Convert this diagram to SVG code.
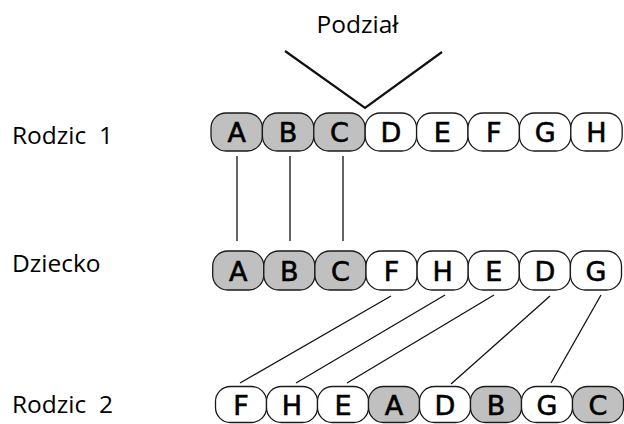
<svg xmlns="http://www.w3.org/2000/svg" width="624" height="424" viewBox="0 0 624 424">
<style>
.lbl{font-family:"Open Sans","Noto Sans",sans-serif;font-size:24.5px;fill:#000}
.cell rect{stroke:#1a1a1a;stroke-width:1.3}
.w{fill:#fff}
.g{fill:#c0c0c0}
.cell text{font-family:"DejaVu Sans","Liberation Sans",sans-serif;font-size:27px;text-anchor:middle;fill:#000;stroke:#000;stroke-width:0.6}
.ln{stroke:#111;stroke-width:1.3;fill:none}
.cut{stroke:#111;stroke-width:2.2;fill:none}
</style>
<rect width="624" height="424" fill="#fff"/>
<g id="labels">
<text class="lbl" x="357.5" y="32.5" text-anchor="middle">Podział</text>
<text class="lbl" x="12" y="144" xml:space="preserve">Rodzic  1</text>
<text class="lbl" x="12" y="272">Dziecko</text>
<text class="lbl" x="12" y="413" xml:space="preserve">Rodzic  2</text>
</g>
<g id="connectors">
<polyline class="cut" points="285,51 365,108 442,52"/>
<line class="ln" x1="237" y1="156" x2="237" y2="241"/>
<line class="ln" x1="290" y1="156" x2="290" y2="241"/>
<line class="ln" x1="343" y1="156" x2="343" y2="241"/>
<line class="ln" x1="391" y1="296" x2="240" y2="383"/>
<line class="ln" x1="445" y1="295" x2="296" y2="383"/>
<line class="ln" x1="494" y1="295" x2="347" y2="383"/>
<line class="ln" x1="550" y1="296" x2="451" y2="384"/>
<line class="ln" x1="601" y1="295" x2="551" y2="383"/>
</g>
<g id="parent1">
<g id="p1-A" class="cell"><rect class="g" x="211" y="113" width="51.4" height="38" rx="15" ry="15"/><text x="236.7" y="141.7">A</text></g>
<g id="p1-B" class="cell"><rect class="g" x="262.4" y="113" width="51.4" height="38" rx="15" ry="15"/><text x="288.1" y="141.7">B</text></g>
<g id="p1-C" class="cell"><rect class="g" x="313.8" y="113" width="51.4" height="38" rx="15" ry="15"/><text x="339.5" y="141.7">C</text></g>
<g id="p1-D" class="cell"><rect class="w" x="365.2" y="113" width="51.4" height="38" rx="15" ry="15"/><text x="390.9" y="141.7">D</text></g>
<g id="p1-E" class="cell"><rect class="w" x="416.6" y="113" width="51.4" height="38" rx="15" ry="15"/><text x="442.3" y="141.7">E</text></g>
<g id="p1-F" class="cell"><rect class="w" x="468" y="113" width="51.4" height="38" rx="15" ry="15"/><text x="493.7" y="141.7">F</text></g>
<g id="p1-G" class="cell"><rect class="w" x="519.4" y="113" width="51.4" height="38" rx="15" ry="15"/><text x="545.1" y="141.7">G</text></g>
<g id="p1-H" class="cell"><rect class="w" x="570.8" y="113" width="51.4" height="38" rx="15" ry="15"/><text x="596.5" y="141.7">H</text></g>
</g>
<g id="child">
<g id="c-A" class="cell"><rect class="g" x="212.7" y="251" width="51.1" height="39" rx="15" ry="15"/><text x="238.25" y="280.5">A</text></g>
<g id="c-B" class="cell"><rect class="g" x="263.8" y="251" width="51.1" height="39" rx="15" ry="15"/><text x="289.35" y="280.5">B</text></g>
<g id="c-C" class="cell"><rect class="g" x="314.9" y="251" width="51.1" height="39" rx="15" ry="15"/><text x="340.45" y="280.5">C</text></g>
<g id="c-F" class="cell"><rect class="w" x="366" y="251" width="51.1" height="39" rx="15" ry="15"/><text x="391.55" y="280.5">F</text></g>
<g id="c-H" class="cell"><rect class="w" x="417.1" y="251" width="51.1" height="39" rx="15" ry="15"/><text x="442.65" y="280.5">H</text></g>
<g id="c-E" class="cell"><rect class="w" x="468.2" y="251" width="51.1" height="39" rx="15" ry="15"/><text x="493.75" y="280.5">E</text></g>
<g id="c-D" class="cell"><rect class="w" x="519.3" y="251" width="51.1" height="39" rx="15" ry="15"/><text x="544.85" y="280.5">D</text></g>
<g id="c-G" class="cell"><rect class="w" x="570.4" y="251" width="51.1" height="39" rx="15" ry="15"/><text x="595.95" y="280.5">G</text></g>
</g>
<g id="parent2">
<g id="p2-F" class="cell"><rect class="w" x="215.5" y="386.5" width="51" height="36" rx="15" ry="15"/><text x="241" y="414.5">F</text></g>
<g id="p2-H" class="cell"><rect class="w" x="266.5" y="386.5" width="51" height="36" rx="15" ry="15"/><text x="292" y="414.5">H</text></g>
<g id="p2-E" class="cell"><rect class="w" x="317.5" y="386.5" width="51" height="36" rx="15" ry="15"/><text x="343" y="414.5">E</text></g>
<g id="p2-A" class="cell"><rect class="g" x="368.5" y="386.5" width="51" height="36" rx="15" ry="15"/><text x="394" y="414.5">A</text></g>
<g id="p2-D" class="cell"><rect class="w" x="419.5" y="386.5" width="51" height="36" rx="15" ry="15"/><text x="445" y="414.5">D</text></g>
<g id="p2-B" class="cell"><rect class="g" x="470.5" y="386.5" width="51" height="36" rx="15" ry="15"/><text x="496" y="414.5">B</text></g>
<g id="p2-G" class="cell"><rect class="w" x="521.5" y="386.5" width="51" height="36" rx="15" ry="15"/><text x="547" y="414.5">G</text></g>
<g id="p2-C" class="cell"><rect class="g" x="572.5" y="386.5" width="51" height="36" rx="15" ry="15"/><text x="598" y="414.5">C</text></g>
</g>
</svg>
